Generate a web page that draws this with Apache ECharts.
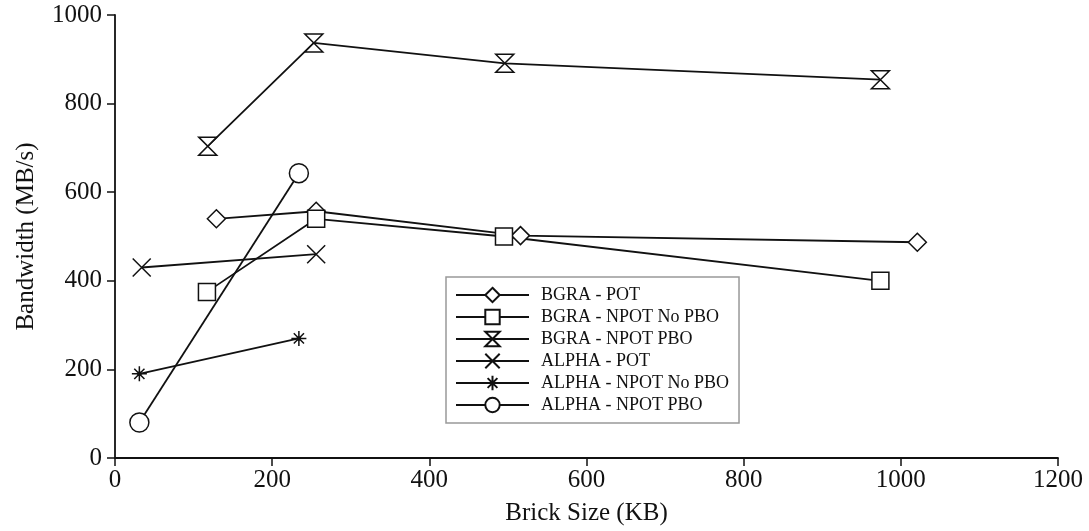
<!DOCTYPE html>
<html>
<head>
<meta charset="utf-8">
<script src="https://cdn.jsdelivr.net/npm/echarts@6/dist/echarts.min.js"></script>
<style>
  html, body { margin: 0; padding: 0; background: #fff; }
  #chart { width: 1089px; height: 531px; }
</style>
</head>
<body>
<div id="chart"></div>
<script>
// Brick size (KB) vs. upload bandwidth (MB/s) per texture format / transfer path
const seriesNames = [
  'BGRA - POT',
  'BGRA - NPOT No PBO',
  'BGRA - NPOT PBO',
  'ALPHA - POT',
  'ALPHA - NPOT No PBO',
  'ALPHA - NPOT PBO'
];

const bgraPot        = [[129, 540], [256, 557], [516, 502], [1021, 487]];
const bgraNpotNoPbo  = [[117, 375], [256, 540], [495, 500], [974, 400]];
const bgraNpotPbo    = [[118, 704], [253, 937], [496, 891], [974, 854]];
const alphaPot       = [[34, 430], [256, 460]];
const alphaNpotNoPbo = [[31, 190], [234, 270]];
const alphaNpotPbo   = [[31, 80], [234, 643]];

const xTicks = { min: 0, max: 1200, interval: 200 };
const yTicks = { min: 0, max: 1000, interval: 200 };

// marker shapes
const HOURGLASS = 'path://M0,0 L10,0 L0,10 L10,10 Z';
const CROSS = 'path://M0,0 L10,10 M10,0 L0,10';
const ASTERISK = 'path://M5,0 L5,10 M0,5 L10,5 M1.6,1.6 L8.4,8.4 M8.4,1.6 L1.6,8.4 M4,4 L6,4 L6,6 L4,6 Z';

const INK = '#111';
const FONT = 'Liberation Serif';

function lineSeries(name, data, symbol, size) {
  return {
    name: name,
    type: 'line',
    data: data,
    symbol: symbol,
    symbolSize: size,
    showAllSymbol: true,
    lineStyle: { color: INK, width: 1.8 },
    itemStyle: { color: '#fff', borderColor: INK, borderWidth: 1.5 },
    emphasis: { disabled: true },
    animation: false
  };
}

const plainNumber = v => String(v);

const chart = echarts.init(document.getElementById('chart'), null, { renderer: 'canvas' });

chart.setOption({
  backgroundColor: '#fff',
  animation: false,
  textStyle: { fontFamily: FONT, color: INK },
  grid: { left: 115, right: 31, top: 15, bottom: 71 },
  legend: {
    orient: 'vertical',
    left: 446,
    top: 277,
    data: seriesNames,
    itemWidth: 73,
    itemHeight: 18,
    itemGap: 4,
    padding: [9, 10, 9, 9],
    backgroundColor: '#fff',
    borderColor: '#999',
    borderWidth: 1.5,
    textStyle: { fontFamily: FONT, fontSize: 18, color: INK, padding: [0, 0, 0, 7] }
  },
  xAxis: {
    type: 'value',
    min: xTicks.min,
    max: xTicks.max,
    interval: xTicks.interval,
    name: 'Brick Size (KB)',
    nameLocation: 'middle',
    nameGap: 43,
    nameTextStyle: { fontFamily: FONT, fontSize: 25, color: INK },
    axisLine: { show: true, lineStyle: { color: INK, width: 1.8 } },
    axisTick: { show: true, inside: false, length: 8, lineStyle: { color: INK, width: 1.5 } },
    axisLabel: { fontFamily: FONT, fontSize: 25, color: INK, margin: 10, formatter: plainNumber },
    splitLine: { show: false }
  },
  yAxis: {
    type: 'value',
    min: yTicks.min,
    max: yTicks.max,
    interval: yTicks.interval,
    name: 'Bandwidth (MB/s)',
    nameLocation: 'middle',
    nameGap: 76,
    nameRotate: 90,
    nameTextStyle: { fontFamily: FONT, fontSize: 25, color: INK },
    axisLine: { show: true, lineStyle: { color: INK, width: 1.8 } },
    axisTick: { show: true, inside: false, length: 8, lineStyle: { color: INK, width: 1.5 } },
    axisLabel: { fontFamily: FONT, fontSize: 25, color: INK, margin: 13, formatter: plainNumber },
    splitLine: { show: false }
  },
  series: [
    lineSeries(seriesNames[0], bgraPot, 'diamond', 18),
    lineSeries(seriesNames[1], bgraNpotNoPbo, 'rect', 17),
    lineSeries(seriesNames[2], bgraNpotPbo, HOURGLASS, [18, 18]),
    lineSeries(seriesNames[3], alphaPot, CROSS, 18),
    lineSeries(seriesNames[4], alphaNpotNoPbo, ASTERISK, 15),
    lineSeries(seriesNames[5], alphaNpotPbo, 'circle', 19)
  ]
});
</script>
</body>
</html>
